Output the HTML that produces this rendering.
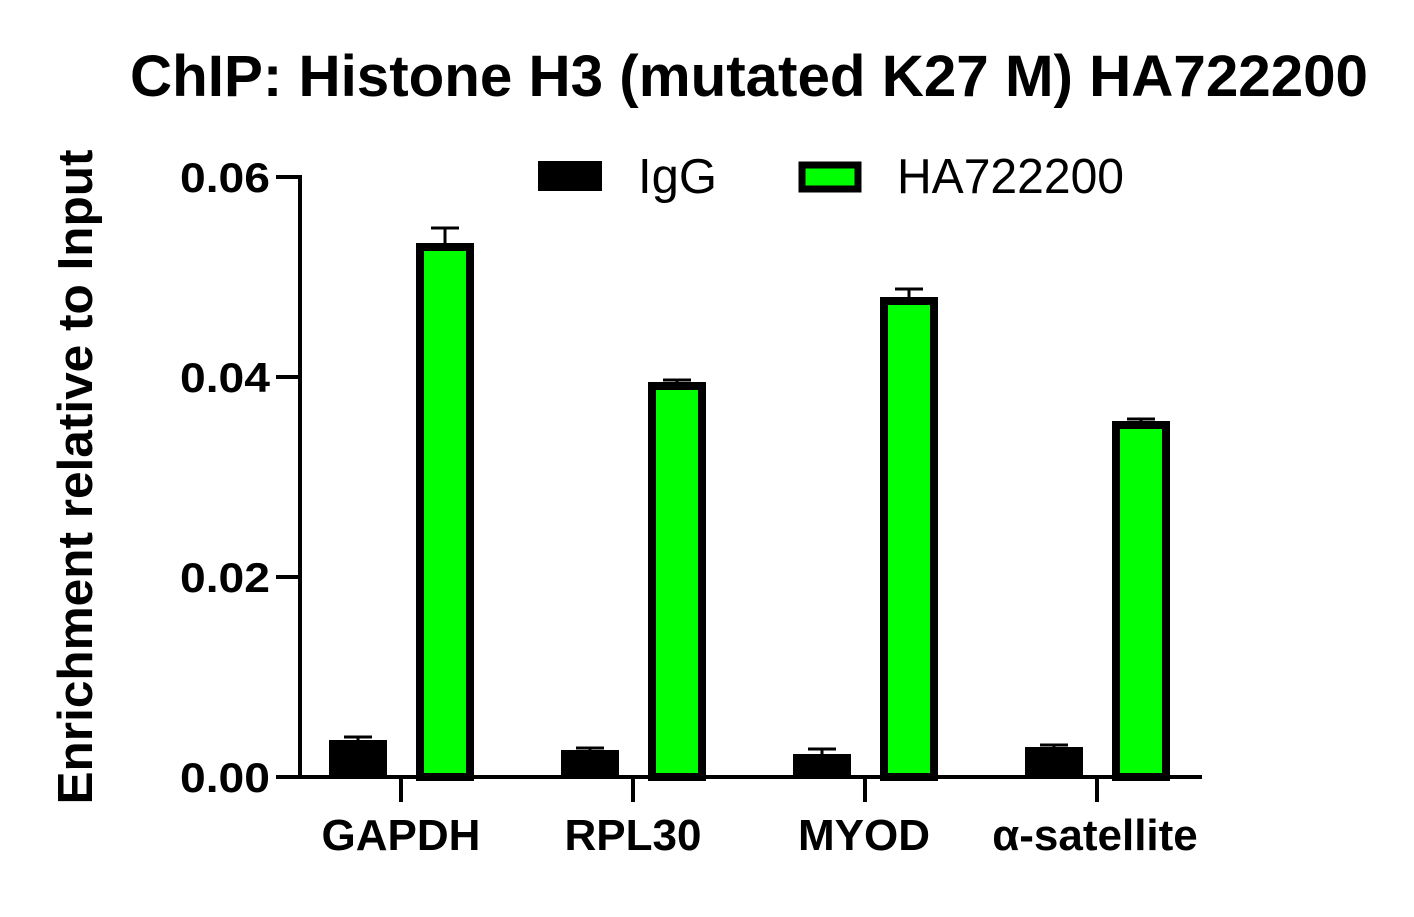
<!DOCTYPE html>
<html><head><style>body{margin:0;background:#fff}svg{display:block}</style></head><body>
<svg width="1414" height="917" xmlns="http://www.w3.org/2000/svg" font-family="Liberation Sans, Arial, sans-serif">
<rect width="1414" height="917" fill="#fff"/>
<text x="749" y="96" font-size="58" font-weight="bold" text-anchor="middle" textLength="1238" lengthAdjust="spacingAndGlyphs">ChIP: Histone H3 (mutated K27 M) HA722200</text>
<text transform="translate(92,477) rotate(-90)" font-size="49" font-weight="bold" text-anchor="middle" textLength="655" lengthAdjust="spacingAndGlyphs">Enrichment relative to Input</text>
<g stroke="#000" stroke-width="4">
<line x1="300" y1="175" x2="300" y2="779"/>
<line x1="298" y1="777" x2="1202" y2="777"/>
<line x1="276" y1="177" x2="300" y2="177"/>
<line x1="276" y1="377" x2="300" y2="377"/>
<line x1="276" y1="577" x2="300" y2="577"/>
<line x1="276" y1="777" x2="300" y2="777"/>
<line x1="401" y1="777" x2="401" y2="802"/>
<line x1="633" y1="777" x2="633" y2="802"/>
<line x1="865" y1="777" x2="865" y2="802"/>
<line x1="1097" y1="777" x2="1097" y2="802"/>
</g>
<g font-size="42" font-weight="bold" text-anchor="end">
<text x="270" y="192" textLength="90" lengthAdjust="spacingAndGlyphs">0.06</text><text x="270" y="392" textLength="90" lengthAdjust="spacingAndGlyphs">0.04</text><text x="270" y="592" textLength="90" lengthAdjust="spacingAndGlyphs">0.02</text><text x="270" y="792" textLength="90" lengthAdjust="spacingAndGlyphs">0.00</text>
</g>
<g font-size="44" font-weight="bold" text-anchor="middle">
<text x="401" y="850">GAPDH</text><text x="633" y="850">RPL30</text><text x="864" y="850">MYOD</text><text x="1095" y="850">α-satellite</text>
</g>
<g stroke="#000" stroke-width="3">
<line x1="358" y1="740" x2="358" y2="737"/><line x1="344" y1="737" x2="372" y2="737"/>
<line x1="445" y1="243" x2="445" y2="228"/><line x1="431" y1="228" x2="459" y2="228"/>
<line x1="590" y1="750" x2="590" y2="748"/><line x1="576" y1="748" x2="604" y2="748"/>
<line x1="677" y1="382" x2="677" y2="380"/><line x1="663" y1="380" x2="691" y2="380"/>
<line x1="822" y1="754" x2="822" y2="749"/><line x1="808" y1="749" x2="836" y2="749"/>
<line x1="909" y1="297" x2="909" y2="289"/><line x1="895" y1="289" x2="923" y2="289"/>
<line x1="1054" y1="747" x2="1054" y2="745"/><line x1="1040" y1="745" x2="1068" y2="745"/>
<line x1="1141" y1="421" x2="1141" y2="419"/><line x1="1127" y1="419" x2="1155" y2="419"/>
</g>
<g fill="#000">
<rect x="329" y="740" width="58" height="37"/>
<rect x="561" y="750" width="58" height="27"/>
<rect x="793" y="754" width="58" height="23"/>
<rect x="1025" y="747" width="58" height="30"/>
</g>
<g fill="#00ff00" stroke="#000" stroke-width="8">
<rect x="420" y="247" width="50" height="530"/>
<rect x="652" y="386" width="50" height="391"/>
<rect x="884" y="301" width="50" height="476"/>
<rect x="1116" y="425" width="50" height="352"/>
</g>
<rect x="538" y="161" width="64" height="30" fill="#000"/>
<text x="638" y="193" font-size="49">IgG</text>
<rect x="802" y="165" width="56" height="24" fill="#00ff00" stroke="#000" stroke-width="7"/>
<text x="897" y="193" font-size="49" textLength="227" lengthAdjust="spacingAndGlyphs">HA722200</text>
</svg>
</body></html>
